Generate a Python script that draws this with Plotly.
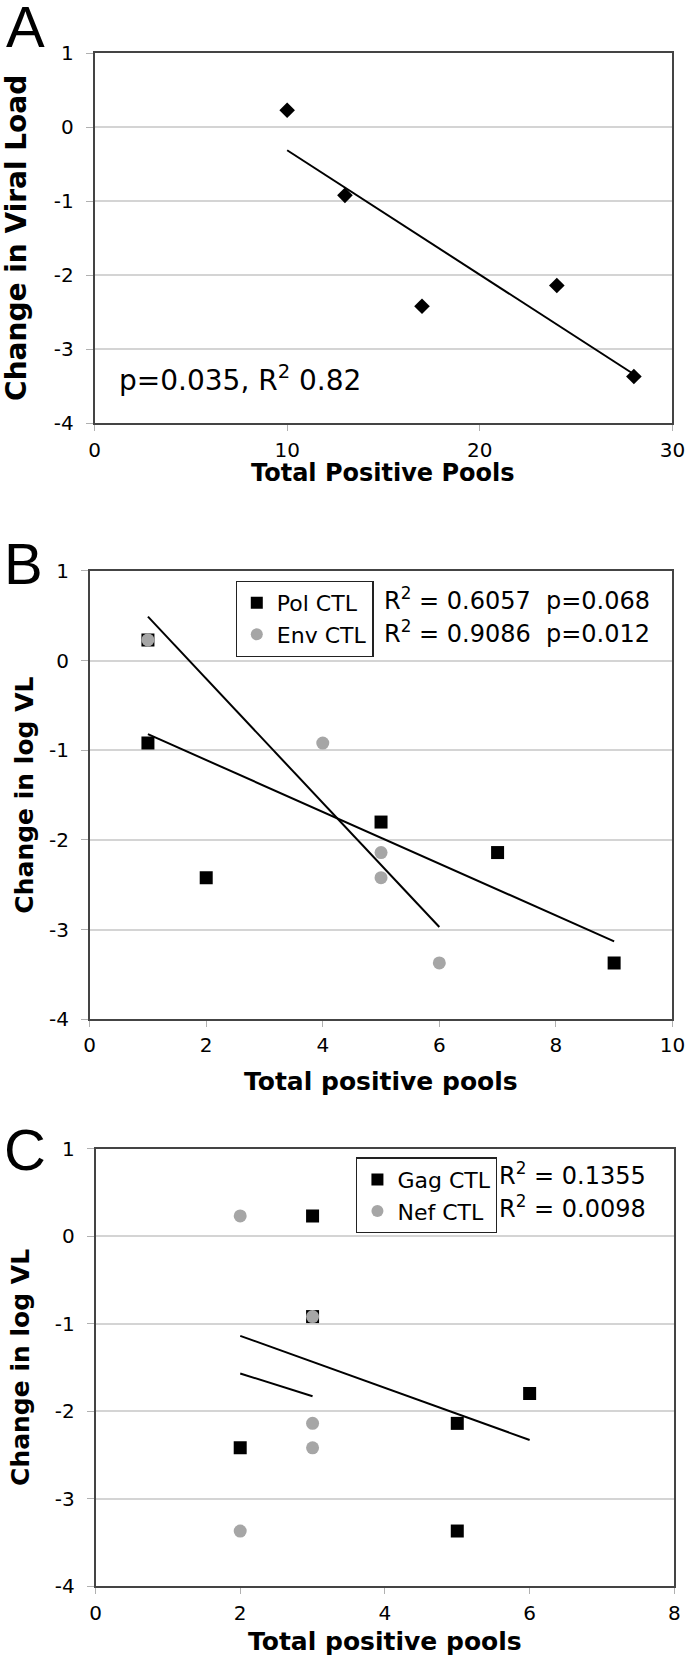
import plotly.graph_objects as go

W, H = 700, 1679

# ---------------- data ----------------
# Panel A
a_pools = [10, 13, 17, 24, 28]
a_vl = [0.23, -0.92, -2.42, -2.14, -3.37]
a_trend_x = [10, 28]
a_trend_y = [-0.31, -3.34]

# Panel B
b_pol_pools = [1, 1, 2, 5, 7, 9]
b_pol_vl = [0.23, -0.92, -2.42, -1.80, -2.14, -3.37]
b_env_pools = [1, 4, 5, 5, 6]
b_env_vl = [0.23, -0.92, -2.14, -2.42, -3.37]
b_pol_trend_x = [1, 9]
b_pol_trend_y = [-0.82, -3.13]
b_env_trend_x = [1, 6]
b_env_trend_y = [0.49, -2.97]

# Panel C
c_gag_pools = [2, 3, 3, 5, 5, 6]
c_gag_vl = [-2.42, 0.23, -0.92, -2.14, -3.37, -1.80]
c_nef_pools = [2, 2, 3, 3, 3]
c_nef_vl = [0.23, -3.37, -0.92, -2.14, -2.42]
c_gag_trend_x = [2, 6]
c_gag_trend_y = [-1.14, -2.33]
c_nef_trend_x = [2, 3]
c_nef_trend_y = [-1.57, -1.83]

y_tickvals = [1, 0, -1, -2, -3, -4]
y_ticktext = ["1", "0", "-1", "-2", "-3", "-4"]
a_xtickvals = [0, 10, 20, 30]
b_xtickvals = [0, 2, 4, 6, 8, 10]
c_xtickvals = [0, 2, 4, 6, 8]

# ---------------- helpers ----------------
def px(x):
    return x / W

def py(y):
    return 1 - y / H

BLACK = "#000000"
GREY = "#a6a6a6"
GRID = "#d4d4d4"
BORDER = "#444444"
FONT = "DejaVu Sans"
TICKFONT = dict(family=FONT, size=20, color="black")

fig = go.Figure()

# Panel A
fig.add_trace(go.Scatter(x=a_trend_x, y=a_trend_y, mode="lines",
                         line=dict(color=BLACK, width=2), showlegend=False,
                         xaxis="x", yaxis="y"))
fig.add_trace(go.Scatter(x=a_pools, y=a_vl, mode="markers",
                         marker=dict(symbol="diamond", size=12, color=BLACK),
                         showlegend=False, xaxis="x", yaxis="y"))

# Panel B
fig.add_trace(go.Scatter(x=b_pol_trend_x, y=b_pol_trend_y, mode="lines",
                         line=dict(color=BLACK, width=2), showlegend=False,
                         xaxis="x2", yaxis="y2"))
fig.add_trace(go.Scatter(x=b_env_trend_x, y=b_env_trend_y, mode="lines",
                         line=dict(color=BLACK, width=2), showlegend=False,
                         xaxis="x2", yaxis="y2"))
fig.add_trace(go.Scatter(x=b_pol_pools, y=b_pol_vl, mode="markers", name="Pol CTL",
                         marker=dict(symbol="square", size=13, color=BLACK),
                         xaxis="x2", yaxis="y2", legend="legend"))
fig.add_trace(go.Scatter(x=b_env_pools, y=b_env_vl, mode="markers", name="Env CTL",
                         marker=dict(symbol="circle", size=13, color=GREY),
                         xaxis="x2", yaxis="y2", legend="legend"))

# Panel C
fig.add_trace(go.Scatter(x=c_gag_trend_x, y=c_gag_trend_y, mode="lines",
                         line=dict(color=BLACK, width=2), showlegend=False,
                         xaxis="x3", yaxis="y3"))
fig.add_trace(go.Scatter(x=c_nef_trend_x, y=c_nef_trend_y, mode="lines",
                         line=dict(color=BLACK, width=2), showlegend=False,
                         xaxis="x3", yaxis="y3"))
fig.add_trace(go.Scatter(x=c_gag_pools, y=c_gag_vl, mode="markers", name="Gag CTL",
                         marker=dict(symbol="square", size=13, color=BLACK),
                         xaxis="x3", yaxis="y3", legend="legend2"))
fig.add_trace(go.Scatter(x=c_nef_pools, y=c_nef_vl, mode="markers", name="Nef CTL",
                         marker=dict(symbol="circle", size=13, color=GREY),
                         xaxis="x3", yaxis="y3", legend="legend2"))


def xaxis_cfg(domain, rng, tickvals, anchor, standoff):
    return dict(domain=domain, range=rng, tickvals=tickvals,
                ticktext=[str(v) for v in tickvals], anchor=anchor,
                showgrid=False, zeroline=False, showline=True, mirror=True,
                linecolor=BORDER, linewidth=1.5, ticks="outside", ticklen=6,
                tickcolor="#b0b0b0", tickwidth=1, tickfont=TICKFONT,
                ticklabelstandoff=standoff, fixedrange=True)


def yaxis_cfg(domain, anchor):
    return dict(domain=domain, range=[-4, 1], tickvals=y_tickvals,
                ticktext=y_ticktext, anchor=anchor,
                showgrid=True, gridcolor=GRID, gridwidth=1.5, zeroline=False,
                showline=True, mirror=True, linecolor=BORDER, linewidth=1.5,
                ticks="outside", ticklen=7, tickcolor="#b0b0b0", tickwidth=1,
                tickfont=TICKFONT, ticklabelstandoff=8, fixedrange=True)

# panel pixel boxes
A = dict(l=91, r=685, t=42, b=417)
B = dict(l=86, r=685, t=567, b=1022)
C = dict(l=92, r=687, t=1153, b=1597)

fig.update_layout(
    xaxis=xaxis_cfg([px(A["l"]), px(A["r"])], [0, 30], a_xtickvals, "y", 2),
    yaxis=yaxis_cfg([py(A["b"]), py(A["t"])], "x"),
    xaxis2=xaxis_cfg([px(B["l"]), px(B["r"])], [0, 10], b_xtickvals, "y2", 1),
    yaxis2=yaxis_cfg([py(B["b"]), py(B["t"])], "x2"),
    xaxis3=xaxis_cfg([px(C["l"]), px(C["r"])], [0, 8], c_xtickvals, "y3", 2),
    yaxis3=yaxis_cfg([py(C["b"]), py(C["t"])], "x3"),
)

legend_style = dict(bgcolor="white", bordercolor="#222222", borderwidth=1.2,
                    font=dict(family=FONT, size=22, color="black"),
                    xanchor="left", yanchor="top", tracegroupgap=0,
                    itemsizing="constant")
fig.update_layout(
    legend=dict(x=px(236), y=py(577), **legend_style),
    legend2=dict(x=px(360), y=py(1162), **legend_style),
)

annotations = []

def text(x, y, s, size, family=FONT, bold=False, xanchor="center", yanchor="middle", angle=0):
    if bold:
        s = "<b>" + s + "</b>"
    annotations.append(dict(x=px(x), y=py(y), xref="paper", yref="paper", text=s,
                            showarrow=False, xanchor=xanchor, yanchor=yanchor,
                            textangle=angle,
                            font=dict(family=family, size=size, color="black")))

# panel letters
text(20, 15, "A", 58, family="Liberation Sans")
text(18, 560, "B", 58, family="Liberation Sans")
text(20, 1154, "C", 58, family="Liberation Sans")

# axis titles
text((A["l"] + A["r"]) / 2, 468, "Total Positive Pools", 24, bold=True)
text(11, (A["t"] + A["b"]) / 2, "Change in Viral Load", 28, bold=True, angle=-90)
text((B["l"] + B["r"]) / 2, 1085, "Total positive pools", 25, bold=True)
text(19, (B["t"] + B["b"]) / 2, "Change in log VL", 25, bold=True, angle=-90)
text((C["l"] + C["r"]) / 2, 1653, "Total positive pools", 25, bold=True)
text(15, (C["t"] + C["b"]) / 2, "Change in log VL", 25, bold=True, angle=-90)

# statistics
text(114, 372, "p=0.035, R<sup>2</sup> 0.82", 28, xanchor="left")
NB = "\u00a0"
text(387, 596, "R<sup>2</sup> = 0.6057" + NB + NB + "p=0.068", 24, xanchor="left")
text(387, 629, "R<sup>2</sup> = 0.9086" + NB + NB + "p=0.012", 24, xanchor="left")
text(505, 1179, "R<sup>2</sup> = 0.1355", 24, xanchor="left")
text(505, 1212, "R<sup>2</sup> = 0.0098", 24, xanchor="left")

fig.update_layout(
    annotations=annotations,
    width=W, height=H, autosize=False,
    margin=dict(l=0, r=0, t=0, b=0),
    paper_bgcolor="white", plot_bgcolor="white",
    font=dict(family=FONT, color="black"),
)

fig.write_html("out.html", config={"displayModeBar": False},
               post_script="document.body.style.margin='0px';document.body.style.overflow='hidden';")
